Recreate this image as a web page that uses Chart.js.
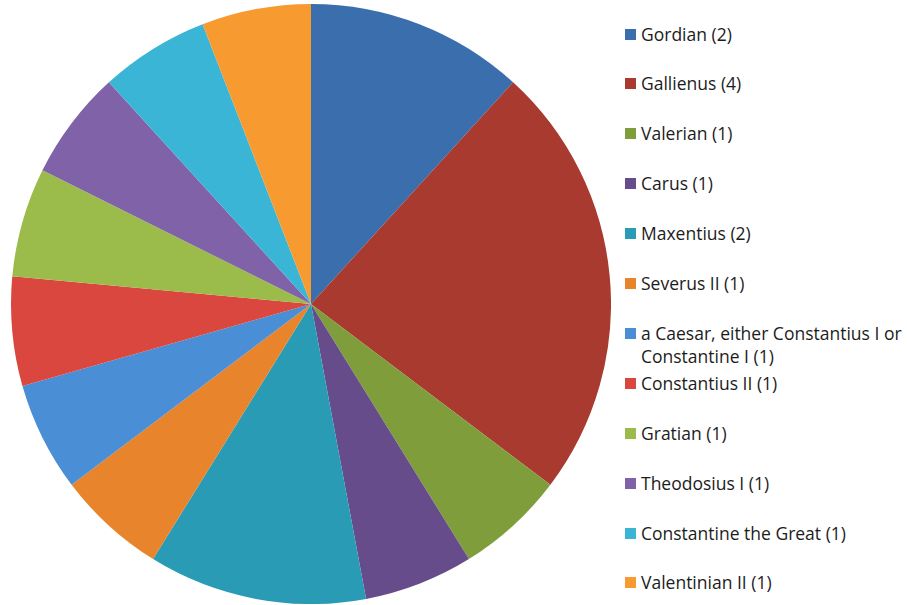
<!DOCTYPE html>
<html><head><meta charset="utf-8">
<script src="https://cdn.jsdelivr.net/npm/chart.js@4"></script>
<style>
html,body{margin:0;padding:0;background:#fff;width:907px;height:605px;overflow:hidden;font-family:"Open Sans",Lato,sans-serif;}
#wrap{position:absolute;left:11px;top:4px;width:600px;height:600px;}
#legend{position:absolute;left:625px;top:0;width:282px;height:605px;}
.item{position:absolute;left:0;width:282px;font-size:17.5px;color:#1c1c1c;line-height:23px;}
.box{position:absolute;left:0;top:6px;width:11px;height:11px;}
.txt{position:absolute;left:16px;top:0;white-space:nowrap;}
</style></head>
<body>
<div id="wrap"><canvas id="c"></canvas></div>
<div id="legend"></div>
<script>
const labels = ["Gordian (2)","Gallienus (4)","Valerian (1)","Carus (1)","Maxentius (2)","Severus II (1)","a Caesar, either Constantius I or\nConstantine I (1)","Constantius II (1)","Gratian (1)","Theodosius I (1)","Constantine the Great (1)","Valentinian II (1)"];
const counts = [2,4,1,1,2,1,1,1,1,1,1,1];
const colors = ["#3A6EAD","#A83A2F","#7F9E3B","#674C8B","#2A9BB5","#E8842B","#4A8ED6","#D9473F","#9BBC4B","#8062A8","#3BB5D6","#F79B31"];

new Chart(document.getElementById('c'), {
  type: 'pie',
  data: { labels: labels, datasets: [{ data: counts, backgroundColor: colors, borderWidth: 0 }] },
  options: {
    responsive: true, maintainAspectRatio: false, animation: false,
    plugins: { legend: { display: false }, tooltip: { enabled: false } }
  }
});

const leg = document.getElementById('legend');
labels.forEach((l, i) => {
  const it = document.createElement('div');
  it.className = 'item';
  it.style.top = (22.5 + i * 49.9) + 'px';
  const b = document.createElement('div'); b.className = 'box'; b.style.background = colors[i];
  const t = document.createElement('div'); t.className = 'txt';
  l.split('\n').forEach((line, k) => { if (k) t.appendChild(document.createElement('br')); t.appendChild(document.createTextNode(line)); });
  it.appendChild(b); it.appendChild(t); leg.appendChild(it);
});
</script>
</body></html>
